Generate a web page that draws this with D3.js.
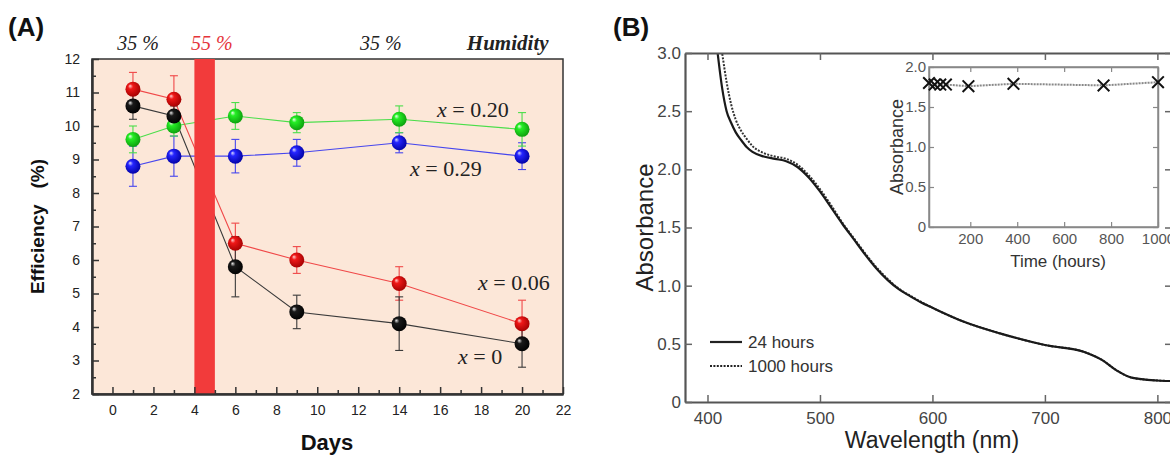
<!DOCTYPE html>
<html>
<head>
<meta charset="utf-8">
<script src="https://cdn.jsdelivr.net/npm/d3@7/dist/d3.min.js"></script>
<style>
  body { margin: 0; background: #fff; }
  svg { display: block; }
</style>
</head>
<body>
<svg id="chart" width="1170" height="455"></svg>
<script>
"use strict";

/* ---- panel A: efficiency vs days ---- */
var days = [1, 3, 6, 9, 14, 20];
var effX0   = [10.6, 10.3, 5.8, 4.45, 4.1, 3.5];
var errX0   = [0.4, 0.3, 0.9, 0.5, 0.8, 0.7];
var effX006 = [11.1, 10.8, 6.5, 6.0, 5.3, 4.1];
var errX006 = [0.5, 0.7, 0.6, 0.4, 0.5, 0.7];
var effX020 = [9.6, 10.0, 10.3, 10.1, 10.2, 9.9];
var errX020 = [0.4, 0.3, 0.4, 0.3, 0.4, 0.5];
var effX029 = [8.8, 9.1, 9.1, 9.2, 9.5, 9.1];
var errX029 = [0.6, 0.6, 0.5, 0.4, 0.3, 0.4];
var seriesLabels = ["0", "0.06", "0.20", "0.29"];
var humidityText = ["35 %", "55 %", "35 %", "Humidity"];
var humidWindow = [4, 5];
var daysTicks = [0, 2, 4, 6, 8, 10, 12, 14, 16, 18, 20, 22];
var effTicks = [2, 3, 4, 5, 6, 7, 8, 9, 10, 11, 12];

/* ---- panel B: absorbance spectra ---- */
var wavelength = [405, 409, 413, 417, 421, 425, 430, 435, 440, 450, 460, 470, 480, 490, 500,
                  510, 520, 530, 540, 550, 560, 570, 580, 590, 600, 628, 660, 700, 735, 751, 764, 777, 800, 813];
var abs24h   = [3.35, 3.0, 2.7, 2.5, 2.4, 2.32, 2.25, 2.19, 2.15, 2.11, 2.09, 2.07, 2.02, 1.93, 1.81,
                1.67, 1.53, 1.40, 1.27, 1.15, 1.05, 0.97, 0.91, 0.855, 0.81, 0.69, 0.59, 0.49, 0.43, 0.36, 0.27, 0.21, 0.185, 0.18];
var abs1000h = [3.6, 3.25, 3.0, 2.75, 2.56, 2.43, 2.33, 2.26, 2.2, 2.14, 2.11, 2.09, 2.04, 1.95, 1.83,
                1.69, 1.54, 1.41, 1.28, 1.16, 1.06, 0.975, 0.915, 0.86, 0.81, 0.69, 0.59, 0.49, 0.43, 0.36, 0.27, 0.21, 0.185, 0.18];
var legendB = ["24 hours", "1000 hours"];
var wlTicks = [400, 500, 600, 700, 800];
var absTicks = [0, 0.5, 1.0, 1.5, 2.0, 2.5, 3.0];

/* ---- inset: absorbance vs time ---- */
var hours = [24, 48, 72, 96, 192, 384, 768, 1000];
var absTime = [1.80, 1.78, 1.78, 1.78, 1.76, 1.79, 1.77, 1.81];
var hourTicks = [200, 400, 600, 800, 1000];
var insetAbsTicks = [0, 0.5, 1.0, 1.5, 2.0];

var svg = d3.select("#chart");
var defs = svg.append("defs");
var sans = "'Liberation Sans', Arial, sans-serif";
var serif = "'Liberation Serif', 'Times New Roman', serif";

function sphere(id, light, base, dark) {
  var g = defs.append("radialGradient").attr("id", id)
    .attr("cx", "45%").attr("cy", "45%").attr("r", "60%")
    .attr("fx", "30%").attr("fy", "28%");
  g.append("stop").attr("offset", "0%").attr("stop-color", light);
  g.append("stop").attr("offset", "28%").attr("stop-color", base);
  g.append("stop").attr("offset", "100%").attr("stop-color", dark);
}
sphere("sBlack", "#e8e8e8", "#1a1a1a", "#000");
sphere("sRed", "#ffd0d0", "#f01818", "#a00000");
sphere("sGreen", "#eaffea", "#25ee25", "#0c9a0c");
sphere("sBlue", "#d8d8ff", "#2525ff", "#0000a0");

/* ================= panel A ================= */
var A = {left: 92, right: 563, top: 59, bottom: 394};
var xA = d3.scaleLinear().domain([-1, 22]).range([A.left, A.right]);
var yA = d3.scaleLinear().domain([2, 12]).range([A.bottom, A.top]);

var gA = svg.append("g");
gA.append("rect")
  .attr("x", A.left).attr("y", A.top)
  .attr("width", A.right - A.left).attr("height", A.bottom - A.top)
  .attr("fill", "#fce7d8").attr("stroke", "#333").attr("stroke-width", 1.5);

var series = [
  {v: effX029, e: errX029, line: "#4646ee", fill: "url(#sBlue)"},
  {v: effX020, e: errX020, line: "#4ade4a", fill: "url(#sGreen)"},
  {v: effX006, e: errX006, line: "#f04848", fill: "url(#sRed)"},
  {v: effX0,   e: errX0,   line: "#3a3a3a", fill: "url(#sBlack)"}
];

var lineA = d3.line()
  .x(function(d) { return xA(d.day); })
  .y(function(d) { return yA(d.val); });

series.forEach(function(s) {
  var pts = days.map(function(d, i) { return {day: d, val: s.v[i], err: s.e[i]}; });
  gA.append("path").datum(pts)
    .attr("d", lineA).attr("fill", "none")
    .attr("stroke", s.line).attr("stroke-width", 1.1);
  var eb = gA.append("g").attr("stroke", s.line).attr("stroke-width", 1.1);
  eb.selectAll("line.v").data(pts).enter().append("line")
    .attr("x1", function(d) { return xA(d.day); }).attr("x2", function(d) { return xA(d.day); })
    .attr("y1", function(d) { return yA(d.val - d.err); })
    .attr("y2", function(d) { return yA(d.val + d.err); });
  [-1, 1].forEach(function(sg) {
    eb.selectAll("line.c" + sg).data(pts).enter().append("line")
      .attr("x1", function(d) { return xA(d.day) - 4; }).attr("x2", function(d) { return xA(d.day) + 4; })
      .attr("y1", function(d) { return yA(d.val + sg * d.err); })
      .attr("y2", function(d) { return yA(d.val + sg * d.err); });
  });
  s.pts = pts;
});

// high humidity window
gA.append("rect")
  .attr("x", xA(humidWindow[0])).attr("y", A.top)
  .attr("width", xA(humidWindow[1]) - xA(humidWindow[0]))
  .attr("height", A.bottom - A.top)
  .attr("fill", "#f23b3b");

series.forEach(function(s) {
  gA.append("g").selectAll("circle").data(s.pts).enter().append("circle")
    .attr("cx", function(d) { return xA(d.day); })
    .attr("cy", function(d) { return yA(d.val); })
    .attr("r", 7.5)
    .attr("fill", s.fill);
});

// axes
gA.append("g").attr("transform", "translate(0," + A.bottom + ")")
  .call(d3.axisBottom(xA).tickValues(daysTicks).tickSize(-7).tickSizeOuter(0).tickPadding(11));
gA.append("g").attr("transform", "translate(0," + A.bottom + ")")
  .call(d3.axisBottom(xA).tickValues(d3.range(1, 22, 2)).tickSize(-4).tickSizeOuter(0).tickFormat(""));
gA.append("g").attr("transform", "translate(" + A.left + ",0)")
  .call(d3.axisLeft(yA).tickValues(effTicks).tickSize(-7).tickSizeOuter(0).tickPadding(12));
gA.append("g").attr("transform", "translate(" + A.left + ",0)")
  .call(d3.axisLeft(yA).tickValues(d3.range(2.5, 12, 1)).tickSize(-4).tickSizeOuter(0).tickFormat(""));

gA.selectAll(".domain").attr("stroke", "#333").attr("stroke-width", 2);
gA.selectAll(".tick line").attr("stroke", "#333").attr("stroke-width", 1.5);
gA.selectAll(".tick text").attr("font-family", sans).attr("font-size", 14).attr("fill", "#222");

// humidity labels on top
var humX = [1.25, 4.85, 13.1, 19.3];
gA.selectAll("text.hum").data(humidityText).enter().append("text")
  .attr("x", function(d, i) { return xA(humX[i]); })
  .attr("y", 50)
  .attr("text-anchor", "middle")
  .attr("font-family", serif).attr("font-style", "italic")
  .attr("font-weight", function(d, i) { return i === 3 ? "bold" : "normal"; })
  .attr("font-size", function(d, i) { return i === 3 ? 21 : 20; })
  .attr("fill", function(d, i) { return i === 1 ? "#e5343a" : "#222"; })
  .text(function(d) { return d; });

// series labels
var labPos = [[458, 364], [478, 290], [437, 117], [410, 176]];
seriesLabels.forEach(function(lab, i) {
  var t = gA.append("text").attr("x", labPos[i][0]).attr("y", labPos[i][1])
    .attr("font-family", serif).attr("font-size", 22).attr("fill", "#222");
  t.append("tspan").attr("font-style", "italic").text("x");
  t.append("tspan").text(" = " + lab);
});

// axis titles
gA.append("text")
  .attr("transform", "translate(44," + (A.top + A.bottom) / 2 + ") rotate(-90)")
  .attr("text-anchor", "middle").attr("font-family", sans)
  .attr("font-size", 19).attr("font-weight", "bold").attr("fill", "#111")
  .attr("xml:space", "preserve")
  .text("Efficiency   (%)");
gA.append("text")
  .attr("x", 327).attr("y", 450).attr("text-anchor", "middle")
  .attr("font-family", sans).attr("font-size", 22).attr("font-weight", "bold").attr("fill", "#111")
  .text("Days");
svg.append("text").attr("x", 8).attr("y", 36)
  .attr("font-family", sans).attr("font-size", 26).attr("font-weight", "bold").attr("fill", "#111")
  .text("(A)");

/* ================= panel B ================= */
var B = {left: 685, right: 1172, top: 53, bottom: 402};
var xB = d3.scaleLinear().domain([380, 813]).range([B.left, B.right]);
var yB = d3.scaleLinear().domain([0, 3]).range([B.bottom, B.top]);
var gB = svg.append("g");

defs.append("clipPath").attr("id", "clipB").append("rect")
  .attr("x", B.left).attr("y", B.top)
  .attr("width", B.right - B.left).attr("height", B.bottom - B.top);

var lineB = d3.line().curve(d3.curveMonotoneX)
  .x(function(d) { return xB(d[0]); })
  .y(function(d) { return yB(d[1]); });

gB.append("path")
  .datum(d3.zip(wavelength, abs1000h))
  .attr("clip-path", "url(#clipB)")
  .attr("d", lineB).attr("fill", "none")
  .attr("stroke", "#333").attr("stroke-width", 2).attr("stroke-dasharray", "2,1.4");
gB.append("path")
  .datum(d3.zip(wavelength, abs24h))
  .attr("clip-path", "url(#clipB)")
  .attr("d", lineB).attr("fill", "none")
  .attr("stroke", "#1a1a1a").attr("stroke-width", 2.2);

var fmtAbs = function(d) { return d === 0 ? "0" : d3.format(".1f")(d); };
gB.append("g").attr("transform", "translate(0," + B.bottom + ")")
  .call(d3.axisBottom(xB).tickValues(wlTicks).tickSize(-7).tickSizeOuter(0).tickPadding(10));
gB.append("g").attr("transform", "translate(0," + B.top + ")")
  .call(d3.axisTop(xB).tickValues(wlTicks).tickSize(-7).tickSizeOuter(0).tickFormat(""));
gB.append("g").attr("transform", "translate(" + B.left + ",0)")
  .call(d3.axisLeft(yB).tickValues(absTicks).tickSize(-7).tickSizeOuter(0).tickPadding(4).tickFormat(fmtAbs));
gB.append("g").attr("transform", "translate(" + B.right + ",0)")
  .call(d3.axisRight(yB).tickValues(absTicks).tickSize(-7).tickSizeOuter(0).tickFormat(""));
gB.selectAll(".domain").attr("stroke", "#555").attr("stroke-width", 2.2);
gB.selectAll(".tick line").attr("stroke", "#666").attr("stroke-width", 1.5);
gB.selectAll(".tick text").attr("font-family", sans).attr("font-size", 17).attr("fill", "#444");

gB.append("text")
  .attr("transform", "translate(653," + (B.top + B.bottom) / 2 + ") rotate(-90)")
  .attr("text-anchor", "middle").attr("font-family", sans).attr("font-size", 24).attr("fill", "#222")
  .text("Absorbance");
gB.append("text")
  .attr("x", 932).attr("y", 448).attr("text-anchor", "middle")
  .attr("font-family", sans).attr("font-size", 23).attr("fill", "#222")
  .text("Wavelength (nm)");
svg.append("text").attr("x", 613).attr("y", 36)
  .attr("font-family", sans).attr("font-size", 26).attr("font-weight", "bold").attr("fill", "#111")
  .text("(B)");

// legend
legendB.forEach(function(lab, i) {
  var y = 342 + i * 24;
  gB.append("line").attr("x1", 710).attr("x2", 742).attr("y1", y).attr("y2", y)
    .attr("stroke", "#222").attr("stroke-width", i === 0 ? 2.2 : 2)
    .attr("stroke-dasharray", i === 0 ? null : "2,1.4");
  gB.append("text").attr("x", 748).attr("y", y + 6)
    .attr("font-family", sans).attr("font-size", 17).attr("fill", "#333")
    .text(lab);
});

/* ---- inset ---- */
var I = {left: 929, right: 1158, top: 67, bottom: 227};
var xI = d3.scaleLinear().domain([24, 1000]).range([I.left, I.right]);
var yI = d3.scaleLinear().domain([0, 2]).range([I.bottom, I.top]);
var gI = svg.append("g");
gI.append("rect").attr("x", I.left).attr("y", I.top)
  .attr("width", I.right - I.left).attr("height", I.bottom - I.top)
  .attr("fill", "#fff").attr("stroke", "#888").attr("stroke-width", 1.5);

gI.append("g").attr("transform", "translate(0," + I.bottom + ")")
  .call(d3.axisBottom(xI).tickValues(hourTicks).tickSize(-5).tickSizeOuter(0).tickPadding(6)
    .tickFormat(d3.format("d")));
gI.append("g").attr("transform", "translate(0," + I.top + ")")
  .call(d3.axisTop(xI).tickValues(hourTicks).tickSize(-5).tickSizeOuter(0).tickFormat(""));
gI.append("g").attr("transform", "translate(" + I.left + ",0)")
  .call(d3.axisLeft(yI).tickValues(insetAbsTicks).tickSize(-5).tickSizeOuter(0).tickPadding(3).tickFormat(fmtAbs));
gI.append("g").attr("transform", "translate(" + I.right + ",0)")
  .call(d3.axisRight(yI).tickValues(insetAbsTicks).tickSize(-5).tickSizeOuter(0).tickFormat(""));
gI.selectAll(".domain").attr("stroke", "#888").attr("stroke-width", 1.5);
gI.selectAll(".tick line").attr("stroke", "#888").attr("stroke-width", 1.2);
gI.selectAll(".tick text").attr("font-family", sans).attr("font-size", 15).attr("fill", "#555");

var ptsI = d3.zip(hours, absTime);
gI.append("path").datum(ptsI)
  .attr("d", d3.line().x(function(d) { return xI(d[0]); }).y(function(d) { return yI(d[1]); }))
  .attr("fill", "none").attr("stroke", "#888").attr("stroke-width", 2).attr("stroke-dasharray", "2,1");
gI.append("g").selectAll("path.x").data(ptsI).enter().append("path")
  .attr("d", d3.symbol().type(d3.symbolX).size(90))
  .attr("transform", function(d) { return "translate(" + xI(d[0]) + "," + yI(d[1]) + ")"; })
  .attr("fill", "none").attr("stroke", "#111").attr("stroke-width", 2);

gI.append("text")
  .attr("transform", "translate(903," + (I.top + I.bottom) / 2 + ") rotate(-90)")
  .attr("text-anchor", "middle").attr("font-family", sans).attr("font-size", 18).attr("fill", "#333")
  .text("Absorbance");
gI.append("text")
  .attr("x", 1058).attr("y", 267).attr("text-anchor", "middle")
  .attr("font-family", sans).attr("font-size", 17).attr("fill", "#333")
  .text("Time (hours)");
</script>
</body>
</html>
